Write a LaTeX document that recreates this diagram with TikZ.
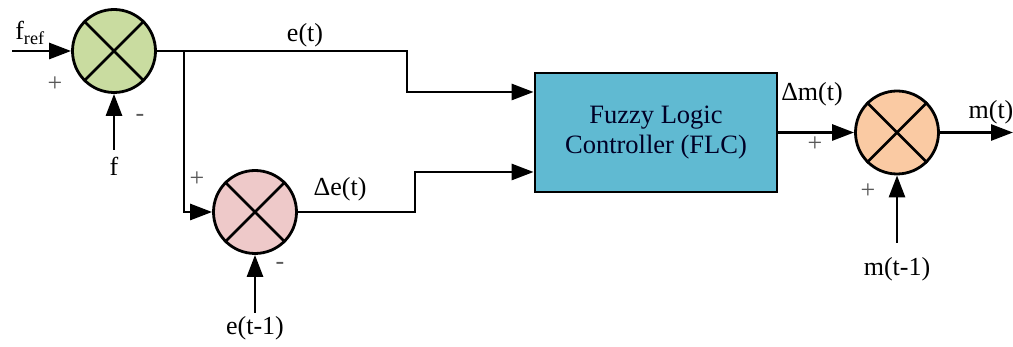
\documentclass[tikz,border=0pt]{standalone}
\usepackage{fontspec}
\setmainfont{Liberation Serif}
\usetikzlibrary{arrows.meta,positioning}
\definecolor{sumgreen}{RGB}{201,220,160}
\definecolor{sumpink}{RGB}{238,201,201}
\definecolor{sumorange}{RGB}{250,202,163}
\definecolor{flcblue}{RGB}{96,186,210}

\begin{document}
\begin{tikzpicture}[x=1pt,y=-1pt,>={Triangle[length=22pt,width=16pt]},
                    line width=2.8pt,
                    sum node/.style={circle,draw,line width=2.8pt,minimum size=83pt,inner sep=0pt},
                    block node/.style={rectangle,draw,fill=flcblue,line width=2.8pt,minimum width=242pt,
                                       minimum height=119pt,align=center,text=black!85!blue,
                                       font=\fontsize{26.5}{30}\selectfont},
                    sig text/.style={font=\fontsize{26}{28}\selectfont},
                    sign/.style={font=\fontsize{26}{28}\selectfont,text=black!65}]
  \useasboundingbox (0,0) rectangle (1013,347);

  \node[sum node,fill=sumgreen] (s1) at (114,51) {};
  \node[sum node,fill=sumpink] (s2) at (255,212) {};
  \node[block node] (flc) at (656,132.5) {Fuzzy Logic\\Controller (FLC)};
  \node[sum node,fill=sumorange] (s3) at (897,132.5) {};

  % crosses in the summing junctions
  \foreach \s in {s1,s2,s3}
    \draw (\s.north west) -- (\s.south east) (\s.north east) -- (\s.south west);

  % free ends
  \coordinate (fin) at (12,51);
  \coordinate (fb) at (114,150);
  \coordinate (tap) at (184,51);
  \coordinate (eb) at (255,313);
  \coordinate (mb) at (897,243);
  \coordinate (out) at (1013,132.5);

  % connectors
  \draw[->] (fin) -- (s1);
  \draw[->] (fb) -- (s1);
  \draw[->] (s1.east) -- (407,51) |- ([yshift=40.5pt]flc.west);
  \draw[->] (tap) |- (s2.west);
  \draw[->] (eb) -- (s2);
  \draw[->] (s2.east) -- (415,212) |- ([yshift=-39.5pt]flc.west);
  \draw[->] (flc) -- (s3);
  \draw[->] (mb) -- (s3);
  \draw[->] (s3) -- (out);

  % labels
  \node[sig text] (lfref) at (30,33) {f\textsubscript{ref}};
  \node[sig text] (lf) at (114,166) {f};
  \node[sig text] (let) at (305,35) {e(t)};
  \node[sig text] (lde) at (340,189) {Δe(t)};
  \node[sig text] (let1) at (255,328) {e(t-1)};
  \node[sig text] (ldm) at (812,94) {Δm(t)};
  \node[sig text] (lmt) at (991,112) {m(t)};
  \node[sig text] (lmt1) at (897,269) {m(t-1)};

  \node[sign] (p1) at (55,84) {+};
  \node[sign] (m1) at (140,118) {-};
  \node[sign] (p2) at (197,179) {+};
  \node[sign] (m2) at (280,266) {-};
  \node[sign] (p3) at (815,144) {+};
  \node[sign] (p4) at (868,191) {+};
\end{tikzpicture}
\end{document}
